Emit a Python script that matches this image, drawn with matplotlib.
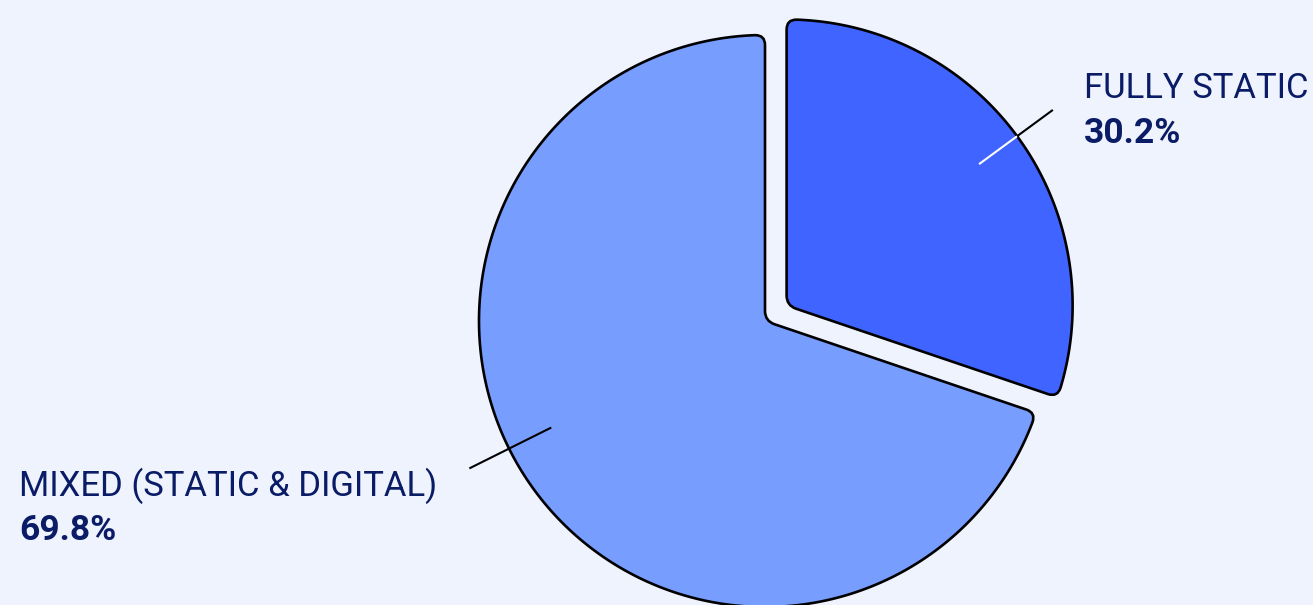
import matplotlib
matplotlib.use('Agg')
import matplotlib.pyplot as plt
from matplotlib.path import Path
from matplotlib.patches import PathPatch
import numpy as np

categories = ["FULLY STATIC", "MIXED (STATIC & DIGITAL)"]
values = [30.2, 69.8]
pct_labels = ["30.2%", "69.8%"]

BG = '#EFF3FE'
colors = ['#4064FF', '#779EFF']
TEXT = '#0B1C66'

plt.rcParams['font.family'] = ['Roboto', 'DejaVu Sans']

W, H = 1313, 605
fig = plt.figure(figsize=(W / 100, H / 100), dpi=100, facecolor=BG)
ax = fig.add_axes([0, 0, 1, 1])
ax.set_facecolor(BG)

R = 286
center = (765, H - 321)
wedges, _ = ax.pie(values, colors=colors, startangle=90, counterclock=False,
                   explode=[0.093 * R, 0], radius=R, center=center,
                   wedgeprops=dict(edgecolor='black', linewidth=1.9))
ax.set_xlim(0, W)
ax.set_ylim(0, H)
ax.set_aspect('equal')
ax.axis('off')


def rounded_wedge(w, rad=10.0):
    """Rebuild a pie wedge outline with rounded corners."""
    cx, cy = w.center
    r = w.r
    t1, t2 = np.deg2rad(w.theta1), np.deg2rad(w.theta2)
    u = lambda t: np.array([np.cos(t), np.sin(t)])
    C = np.array([cx, cy])
    d = rad / r
    verts, codes = [], []
    verts.append(C + (r - rad) * u(t1)); codes.append(Path.MOVETO)
    verts += [C + r * u(t1), C + r * u(t1 + d)]; codes += [Path.CURVE3, Path.CURVE3]
    for t in np.linspace(t1 + d, t2 - d, 400)[1:]:
        verts.append(C + r * u(t)); codes.append(Path.LINETO)
    verts += [C + r * u(t2), C + (r - rad) * u(t2)]; codes += [Path.CURVE3, Path.CURVE3]
    verts.append(C + rad * u(t2)); codes.append(Path.LINETO)
    verts += [C, C + rad * u(t1)]; codes += [Path.CURVE3, Path.CURVE3]
    verts.append(verts[0]); codes.append(Path.CLOSEPOLY)
    return Path(np.array(verts), codes)


for w in wedges:
    pp = PathPatch(rounded_wedge(w), facecolor=w.get_facecolor(), edgecolor='black',
                   linewidth=1.9, joinstyle='round', zorder=w.get_zorder())
    w.set_visible(False)
    ax.add_patch(pp)

# leader line angles (deg) and label layout
leader_angles = [36.3, 206.5]
inner_colors = ['white', 'black']
text_side = ['left', 'right']
fig.canvas.draw()
renderer = fig.canvas.get_renderer()
for i, w in enumerate(wedges):
    a = np.deg2rad(leader_angles[i])
    cx, cy = w.center
    p0 = (cx + 0.835 * R * np.cos(a), cy + 0.835 * R * np.sin(a))
    p1 = (cx + 1.0 * R * np.cos(a), cy + 1.0 * R * np.sin(a))
    p2 = (cx + 1.155 * R * np.cos(a), cy + 1.155 * R * np.sin(a))
    ax.plot([p0[0], p1[0]], [p0[1], p1[1]], color=inner_colors[i], lw=1.5,
            solid_capstyle='butt', zorder=5)
    ax.plot([p1[0], p2[0]], [p1[1], p2[1]], color='black', lw=1.5,
            solid_capstyle='butt', zorder=5)
    if text_side[i] == 'left':
        tx, ty, ha = p2[0] + 31, p2[1] + 12, 'left'
    else:
        tx, ty, ha = p2[0] - 32, p2[1] - 27, 'right'
    t = ax.text(tx, ty, categories[i], ha=ha, va='baseline', fontsize=24.9, color=TEXT)
    bb = t.get_window_extent(renderer).transformed(ax.transData.inverted())
    ax.text(bb.x0, ty - 45, pct_labels[i], ha='left', va='baseline',
            fontsize=25.5, fontweight='bold', color=TEXT)

fig.savefig('out.png', dpi=100, facecolor=BG)
